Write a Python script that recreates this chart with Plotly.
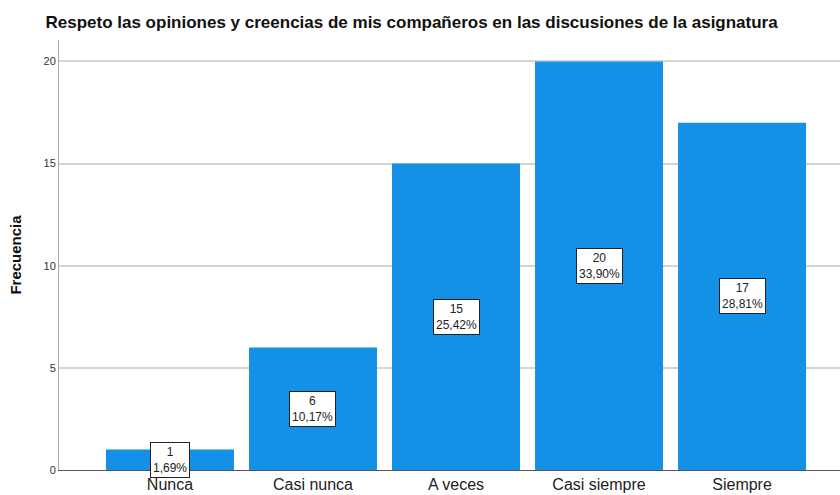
import plotly.graph_objects as go

categorias = ["Nunca", "Casi nunca", "A veces", "Casi siempre", "Siempre"]
frecuencias = [1, 6, 15, 20, 17]
porcentajes = ["1,69%", "10,17%", "25,42%", "33,90%", "28,81%"]

FUENTE = "Liberation Sans, Arial, sans-serif"
AZUL = "#1490E6"

fig = go.Figure(go.Bar(
    x=categorias, y=frecuencias,
    marker=dict(color=AZUL, line=dict(width=0)),
    hoverinfo="x+y", showlegend=False,
))

# Etiquetas en cajas blancas a media altura de cada barra
for cat, f, p in zip(categorias, frecuencias, porcentajes):
    fig.add_annotation(
        x=cat, y=f / 2, text=f"{f}<br>{p}", showarrow=False,
        font=dict(family=FUENTE, size=12, color="#222"),
        bgcolor="white", bordercolor="#222", borderwidth=1, borderpad=2,
    )

fig.update_layout(
    width=840, height=495,
    paper_bgcolor="white", plot_bgcolor="white",
    margin=dict(l=59, r=0, t=40, b=25),
    bargap=0.105,
    font=dict(family=FUENTE, color="#222"),
    title=dict(
        text="<b>Respeto las opiniones y creencias de mis compañeros en las discusiones de la asignatura</b>",
        x=0.49, xanchor="center", y=0.955, yanchor="middle",
        font=dict(size=17, color="#111"),
    ),
    xaxis=dict(
        range=[-0.776, 4.685], showgrid=False, automargin=False,
        showline=True, linecolor="#555", linewidth=1,
        ticks="", tickfont=dict(size=16, color="#222"),
    ),
    yaxis=dict(
        range=[0, 21.05], tickvals=[0, 5, 10, 15, 20], automargin=False,
        showgrid=True, gridcolor="#d4d4d4", gridwidth=1.5,
        showline=True, linecolor="#aaa", linewidth=1,
        zeroline=False, ticks="", ticklen=0,
        tickfont=dict(size=11, color="#333"),
        title=dict(text="<b>Frecuencia</b>", font=dict(size=15, color="#111"), standoff=18),
    ),
)

fig.write_html(
    "out.html",
    config={"displayModeBar": False},
    post_script="document.body.style.margin='0';document.body.style.overflow='hidden';",
)
